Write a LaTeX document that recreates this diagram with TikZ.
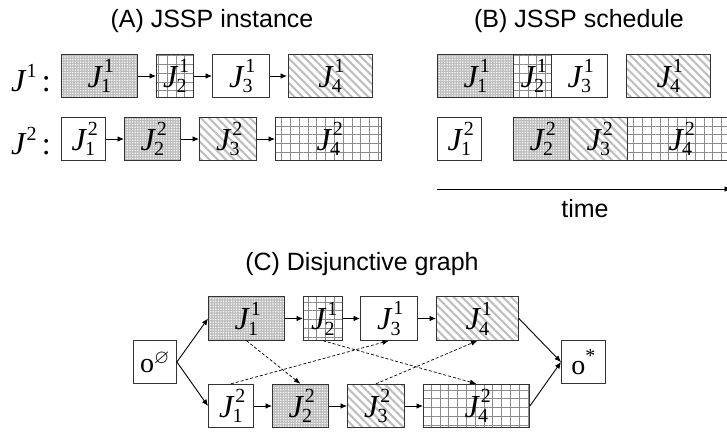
\documentclass[tikz,border=0pt]{standalone}
\usepackage{fontspec}
\setmainfont{Liberation Serif}
\newfontfamily\titlefont{Liberation Sans}
\usepackage{amssymb}
\usetikzlibrary{patterns.meta,arrows.meta}
\newcommand\scr{\fontsize{20}{20}\selectfont}
\newcommand\jl[2]{\textit{J}\kern0.02em\rlap{\raisebox{0.46em}{\scr #1}}\kern-0.08em\raisebox{-0.17em}{\scr #2}}
\tikzset{
  box/.style={draw=black!80, line width=0.9pt, minimum height=43.5pt, inner sep=0pt, anchor=west,
    font=\fontsize{32}{32}\selectfont},
  obox/.style={box, font=\fontsize{28}{28}\selectfont},
  dotsbox/.style={preaction={fill=gray!52}, pattern={Dots[distance=2.6pt,radius=0.78pt]}, pattern color=white},
  gridbox/.style={preaction={fill=white}, pattern={Hatch[distance=8.8pt,angle=0,line width=0.75pt]}, pattern color=gray!90},
  stripebox/.style={preaction={fill=white}, pattern={Lines[angle=-45,distance=5.8pt,line width=2.1pt]}, pattern color=gray!50},
  plainbox/.style={fill=white},
  arr/.style={line width=0.9pt, -{Latex[length=6.5pt,width=5.5pt]}},
  darr/.style={line width=0.7pt, dash pattern=on 3pt off 2pt, -{Latex[length=6.5pt,width=5pt]}},
  ttl/.style={font=\titlefont\fontsize{25}{25}\selectfont, anchor=base, inner sep=0pt},
  rowlbl/.style={font=\fontsize{32}{32}\selectfont, anchor=east, inner sep=0pt}
}
\begin{document}
\begin{tikzpicture}[x=1pt,y=-1pt]
\useasboundingbox (0,0) rectangle (727,434);
\clip (0,0) rectangle (727,434);
% titles
\node[ttl] (tA) at (212,27) {(A) JSSP instance};
\node[ttl] (tB) at (579,27) {(B) JSSP schedule};
\node[ttl] (tC) at (362,270) {(C) Disjunctive graph};
% (A)
\node[rowlbl] (l1) at (51,78) {\textit{J}\raisebox{0.46em}{\scr 1}\,:};
\node[rowlbl] (l2) at (51,141) {\textit{J}\raisebox{0.46em}{\scr 2}\,:};
\node[box,dotsbox,minimum width=76pt] (a11) at (61,76) {\jl11};
\node[box,gridbox,minimum width=37pt] (a12) at (156,76) {\jl12};
\node[box,plainbox,minimum width=57pt] (a13) at (212,76) {\jl13};
\node[box,stripebox,minimum width=84pt] (a14) at (287,76) {\jl14};
\node[box,plainbox,minimum width=44pt] (a21) at (61,139) {\jl21};
\node[box,dotsbox,minimum width=56pt] (a22) at (124,139) {\jl22};
\node[box,stripebox,minimum width=57pt] (a23) at (199,139) {\jl23};
\node[box,gridbox,minimum width=106pt] (a24) at (275,139) {\jl24};
\draw[arr] (a11) -- (a12);
\draw[arr] (a12) -- (a13);
\draw[arr] (a13) -- (a14);
\draw[arr] (a21) -- (a22);
\draw[arr] (a22) -- (a23);
\draw[arr] (a23) -- (a24);
% (B)
\node[box,dotsbox,minimum width=76pt] (b11) at (437,76) {\jl11};
\node[box,gridbox,minimum width=38pt] (b12) at (513,76) {\jl12};
\node[box,plainbox,minimum width=56pt] (b13) at (551,76) {\jl13};
\node[box,stripebox,minimum width=84pt] (b14) at (626,76) {\jl14};
\node[box,plainbox,minimum width=44pt] (b21) at (437,139) {\jl21};
\node[box,dotsbox,minimum width=56pt] (b22) at (513,139) {\jl22};
\node[box,stripebox,minimum width=58pt] (b23) at (569,139) {\jl23};
\node[box,gridbox,minimum width=106pt] (b24) at (627,139) {\jl24};
\coordinate (t0) at (437,189);
\coordinate (t1) at (731,189);
\draw[arr] (t0) -- (t1);
\node[ttl] (time) at (585,217) {time};
% (C)
\node[obox,plainbox,minimum width=43pt] (os) at (133,362) {o$^{\varnothing}$};
\node[box,dotsbox,minimum width=76pt] (c11) at (208,318.5) {\jl11};
\node[box,gridbox,minimum width=39pt] (c12) at (303,318.5) {\jl12};
\node[box,plainbox,minimum width=57pt] (c13) at (360,318.5) {\jl13};
\node[box,stripebox,minimum width=82pt] (c14) at (436,318.5) {\jl14};
\node[box,plainbox,minimum width=45pt] (c21) at (208,406) {\jl21};
\node[box,dotsbox,minimum width=56pt] (c22) at (272,406) {\jl22};
\node[box,stripebox,minimum width=57pt] (c23) at (347,406) {\jl23};
\node[box,gridbox,minimum width=106pt] (c24) at (423,406) {\jl24};
\node[obox,plainbox,minimum width=44pt] (oe) at (561,362) {o\raisebox{0.42em}{\scr *}};
\draw[arr] (os.east) -- (c11.west);
\draw[arr] (os.east) -- (c21.west);
\draw[arr] (c11) -- (c12);
\draw[arr] (c12) -- (c13);
\draw[arr] (c13) -- (c14);
\draw[arr] (c21) -- (c22);
\draw[arr] (c22) -- (c23);
\draw[arr] (c23) -- (c24);
\draw[arr] (c14.east) -- (oe.west);
\draw[arr] (c24.east) -- (oe.west);
\draw[darr] (c11.south) -- (c22.north);
\draw[darr] (c21.north) -- (c13.south);
\draw[darr] (c12.south) -- (c24.north);
\draw[darr] (c23.north) -- (c14.south);
\end{tikzpicture}
\end{document}
